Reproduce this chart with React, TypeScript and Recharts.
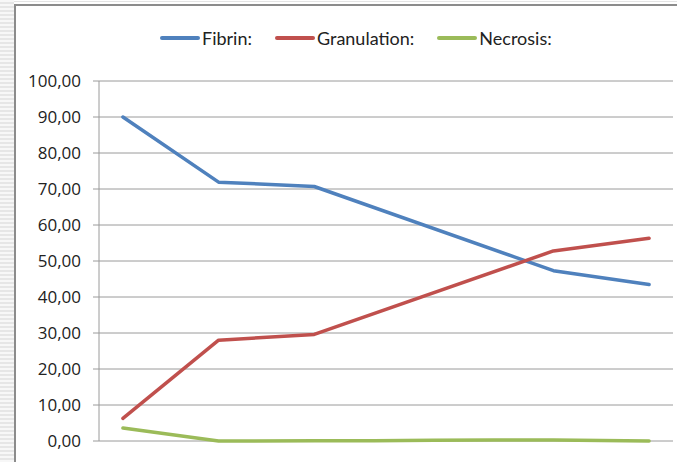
import { LineChart, Line, XAxis, YAxis, CartesianGrid, Legend } from 'recharts';

// measurement days; the middle readings only exist for necrosis
const days = [0, 8, 16, 21, 26, 31, 36, 44];
const fibrin = [90.0, 71.9, 70.7, null, null, null, 47.3, 43.5];
const granulation = [6.3, 28.0, 29.6, null, null, null, 52.8, 56.3];
const necrosis = [3.6, 0.0, 0.05, 0.1, 0.2, 0.3, 0.3, 0.0];
const yTicks = [0, 10, 20, 30, 40, 50, 60, 70, 80, 90, 100];

const SERIES = [
  { key: 'fibrin', name: 'Fibrin:', color: '#4F81BD' },
  { key: 'granulation', name: 'Granulation:', color: '#C0504D' },
  { key: 'necrosis', name: 'Necrosis:', color: '#9BBB59' },
];

const data = days.map((day, i) => ({
  day,
  fibrin: fibrin[i],
  granulation: granulation[i],
  necrosis: necrosis[i],
}));

const FONT = 'Lato, "Open Sans", sans-serif';
const AXIS_FONT = '"Open Sans", Lato, sans-serif';

function LegendRow() {
  return (
    <div style={{ display: 'flex', alignItems: 'center', fontFamily: FONT, fontSize: 18, color: '#222' }}>
      {SERIES.map((s, i) => (
        <div key={s.key} style={{ display: 'flex', alignItems: 'center', marginRight: i < SERIES.length - 1 ? 23 : 0 }}>
          <span
            style={{
              display: 'inline-block',
              width: 40,
              height: 4,
              borderRadius: 2,
              background: s.color,
              marginRight: 2,
            }}
          />
          <span>{s.name}</span>
        </div>
      ))}
    </div>
  );
}

export default function App() {
  return (
    <div style={{ position: 'absolute', left: 0, top: 0, width: 677, height: 462, background: '#fff', overflow: 'hidden' }}>
      {/* sheet rows strip on the left */}
      <div
        style={{
          position: 'absolute',
          left: 0,
          top: 0,
          width: 14,
          height: 462,
          background: 'repeating-linear-gradient(to bottom, #f7f7f7 0px, #f7f7f7 2px, #e6e6e6 2px, #e6e6e6 4px)',
        }}
      />
      <div style={{ position: 'absolute', left: 14, top: 1, width: 663, height: 1, background: '#e4e4e4' }} />
      {/* chart frame */}
      <div style={{ position: 'absolute', left: 14, top: 4, width: 2, height: 458, background: '#8c8c8c' }} />
      <div style={{ position: 'absolute', left: 14, top: 4, width: 663, height: 2, background: '#8c8c8c' }} />

      <div style={{ position: 'absolute', left: 0, top: 0 }}>
        <LineChart width={677} height={462} data={data} margin={{ top: 81, right: 4, bottom: 21, left: 0 }}>
          <CartesianGrid vertical={false} stroke="#9a9a9a" strokeWidth={1} />
          <XAxis dataKey="day" type="number" domain={[-2, 46]} hide />
          <YAxis
            width={99}
            domain={[0, 100]}
            ticks={yTicks}
            interval={0}
            tickFormatter={(v: number) => v.toFixed(2).replace('.', ',')}
            tick={{ fontSize: 17, fill: '#222', fontFamily: AXIS_FONT }}
            tickSize={6}
            tickMargin={12}
            axisLine={{ stroke: '#9a9a9a' }}
            tickLine={{ stroke: '#9a9a9a' }}
          />
          <Legend
            verticalAlign="middle"
            layout="horizontal"
            wrapperStyle={{ top: 27, left: 160, width: 'auto' }}
            content={() => <LegendRow />}
          />
          {SERIES.map((s) => (
            <Line
              key={s.key}
              dataKey={s.key}
              name={s.name}
              type="linear"
              stroke={s.color}
              strokeWidth={3.5}
              strokeLinecap="round"
              strokeLinejoin="round"
              dot={false}
              activeDot={false}
              connectNulls
              isAnimationActive={false}
            />
          ))}
        </LineChart>
      </div>
    </div>
  );
}
